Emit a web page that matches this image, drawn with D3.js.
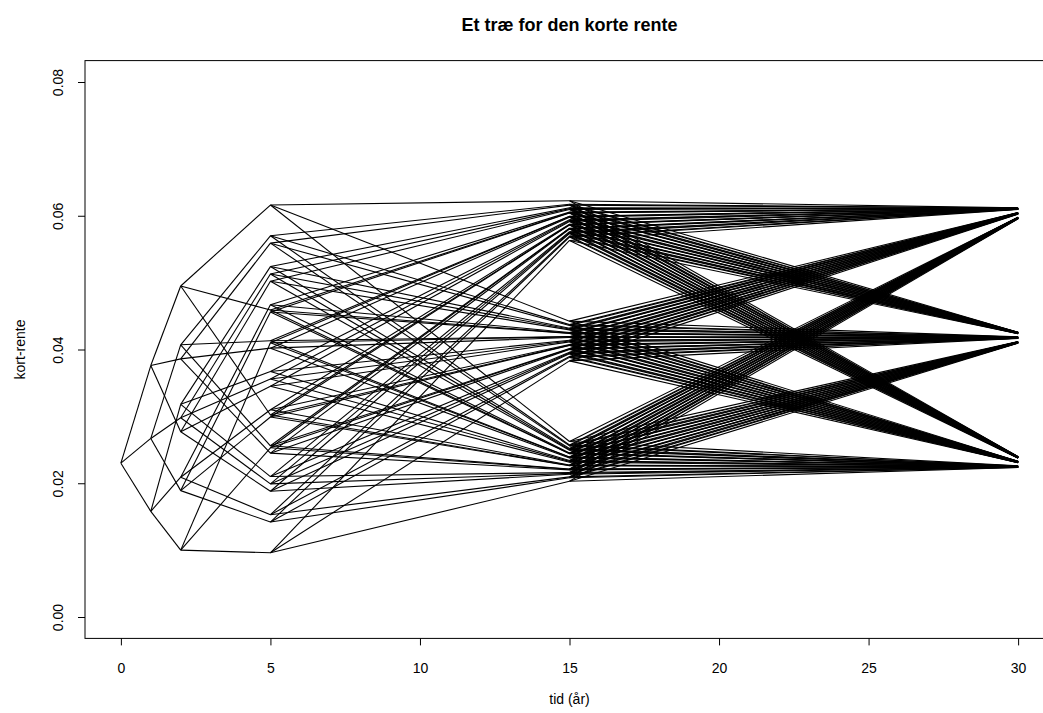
<!DOCTYPE html>
<html>
  <head>
    <meta charset="utf-8" />
    <title>Et træ for den korte rente</title>
    <script src="https://d3js.org/d3.v7.min.js"></script>
    <style>
      body { margin: 0; background: #fff; }
      text { font-family: "Liberation Sans", Arial, Helvetica, sans-serif; }
    </style>
  </head>

  <body>
    <svg id="plot" width="1043" height="713"></svg>

    <script>
      // tidspunkter i traeet (aar)
      var times = [0, 1, 2, 5, 15, 30];

      // korte rente i hver knude, et array pr. tidspunkt
      // (knude i har boernene 3i, 3i+1, 3i+2 paa naeste tidspunkt)
      var rate0 = [0.0230];
      var rate1 = [0.0376, 0.0267, 0.0158];
      var rate2 = [0.0495, 0.0386, 0.0277, 0.0407, 0.0298, 0.0189, 0.0318, 0.0209, 0.0100];
      var rate5 = [
        0.0616, 0.0459, 0.0302, 0.0559, 0.0402, 0.0245, 0.0502, 0.0345, 0.0188,
        0.0570, 0.0413, 0.0256, 0.0513, 0.0356, 0.0199, 0.0456, 0.0299, 0.0142,
        0.0524, 0.0367, 0.0210, 0.0467, 0.0310, 0.0153, 0.0410, 0.0253, 0.0096
      ];
      var rate15 = [
        0.06224, 0.04424, 0.02624, 0.06045, 0.04245, 0.02445, 0.05865, 0.04065, 0.02265,
        0.06159, 0.04359, 0.02559, 0.05979, 0.04179, 0.02379, 0.05800, 0.04000, 0.02200,
        0.06094, 0.04294, 0.02494, 0.05914, 0.04114, 0.02314, 0.05735, 0.03935, 0.02135,
        0.06172, 0.04372, 0.02572, 0.05992, 0.04192, 0.02392, 0.05813, 0.04013, 0.02213,
        0.06106, 0.04306, 0.02506, 0.05927, 0.04127, 0.02327, 0.05747, 0.03947, 0.02147,
        0.06041, 0.04241, 0.02441, 0.05862, 0.04062, 0.02262, 0.05682, 0.03882, 0.02082,
        0.06119, 0.04319, 0.02519, 0.05939, 0.04139, 0.02339, 0.05760, 0.03960, 0.02160,
        0.06054, 0.04254, 0.02454, 0.05874, 0.04074, 0.02274, 0.05695, 0.03895, 0.02095,
        0.05989, 0.04189, 0.02389, 0.05809, 0.04009, 0.02209, 0.05630, 0.03830, 0.02030
      ];
      var rate30 = [
        0.06118, 0.04258, 0.02398, 0.06049, 0.04189, 0.02329, 0.05979, 0.04119, 0.02259,
        0.06111, 0.04251, 0.02391, 0.06042, 0.04182, 0.02322, 0.05972, 0.04112, 0.02252,
        0.06104, 0.04244, 0.02384, 0.06035, 0.04175, 0.02315, 0.05965, 0.04105, 0.02245,
        0.06116, 0.04256, 0.02396, 0.06046, 0.04186, 0.02326, 0.05977, 0.04117, 0.02257,
        0.06109, 0.04249, 0.02389, 0.06039, 0.04179, 0.02319, 0.05970, 0.04110, 0.02250,
        0.06102, 0.04242, 0.02382, 0.06032, 0.04172, 0.02312, 0.05963, 0.04103, 0.02243,
        0.06113, 0.04253, 0.02393, 0.06044, 0.04184, 0.02324, 0.05974, 0.04114, 0.02254,
        0.06106, 0.04246, 0.02386, 0.06037, 0.04177, 0.02317, 0.05967, 0.04107, 0.02247,
        0.06099, 0.04239, 0.02379, 0.06030, 0.04170, 0.02310, 0.05960, 0.04100, 0.02240,
        0.06116, 0.04256, 0.02396, 0.06047, 0.04187, 0.02327, 0.05977, 0.04117, 0.02257,
        0.06109, 0.04249, 0.02389, 0.06040, 0.04180, 0.02320, 0.05970, 0.04110, 0.02250,
        0.06102, 0.04242, 0.02382, 0.06033, 0.04173, 0.02313, 0.05963, 0.04103, 0.02243,
        0.06114, 0.04254, 0.02394, 0.06044, 0.04184, 0.02324, 0.05975, 0.04115, 0.02255,
        0.06107, 0.04247, 0.02387, 0.06037, 0.04177, 0.02317, 0.05968, 0.04108, 0.02248,
        0.06100, 0.04240, 0.02380, 0.06030, 0.04170, 0.02310, 0.05961, 0.04101, 0.02241,
        0.06111, 0.04251, 0.02391, 0.06042, 0.04182, 0.02322, 0.05972, 0.04112, 0.02252,
        0.06104, 0.04244, 0.02384, 0.06035, 0.04175, 0.02315, 0.05965, 0.04105, 0.02245,
        0.06097, 0.04237, 0.02377, 0.06028, 0.04168, 0.02308, 0.05958, 0.04098, 0.02238,
        0.06114, 0.04254, 0.02394, 0.06045, 0.04185, 0.02325, 0.05975, 0.04115, 0.02255,
        0.06107, 0.04247, 0.02387, 0.06038, 0.04178, 0.02318, 0.05968, 0.04108, 0.02248,
        0.06100, 0.04240, 0.02380, 0.06031, 0.04171, 0.02311, 0.05961, 0.04101, 0.02241,
        0.06112, 0.04252, 0.02392, 0.06042, 0.04182, 0.02322, 0.05973, 0.04113, 0.02253,
        0.06105, 0.04245, 0.02385, 0.06035, 0.04175, 0.02315, 0.05966, 0.04106, 0.02246,
        0.06098, 0.04238, 0.02378, 0.06028, 0.04168, 0.02308, 0.05959, 0.04099, 0.02239,
        0.06109, 0.04249, 0.02389, 0.06040, 0.04180, 0.02320, 0.05970, 0.04110, 0.02250,
        0.06102, 0.04242, 0.02382, 0.06033, 0.04173, 0.02313, 0.05963, 0.04103, 0.02243,
        0.06095, 0.04235, 0.02375, 0.06026, 0.04166, 0.02306, 0.05956, 0.04096, 0.02236
      ];
      var levels = [rate0, rate1, rate2, rate5, rate15, rate30];

      var xTicks = [0, 5, 10, 15, 20, 25, 30];
      var yTicks = [0.00, 0.02, 0.04, 0.06, 0.08];

      var svg = d3.select("#plot");

      // R-agtig plotregion: xlim 0..30, ylim 0..0.08 med 4% luft
      var x = d3.scaleLinear().domain([-1.2, 31.2]).range([85, 1054]);
      var y = d3.scaleLinear().domain([-0.0032, 0.0832]).range([638.4, 60.6]);

      // kanter i traeet
      var edges = [];
      for (let l = 0; l < levels.length - 1; l++) {
        for (let i = 0; i < levels[l].length; i++) {
          for (let j = 0; j < 3; j++) {
            edges.push([
              [times[l], levels[l][i]],
              [times[l + 1], levels[l + 1][3 * i + j]]
            ]);
          }
        }
      }

      var line = d3.line()
        .x((d) => x(d[0]))
        .y((d) => y(d[1]));

      svg.append("g")
        .selectAll("path")
        .data(edges)
        .join("path")
        .attr("d", line)
        .attr("fill", "none")
        .attr("stroke", "#000")
        .attr("stroke-width", 1.1);

      // boks
      svg.append("rect")
        .attr("x", x.range()[0])
        .attr("y", y.range()[1])
        .attr("width", x.range()[1] - x.range()[0])
        .attr("height", y.range()[0] - y.range()[1])
        .attr("fill", "none")
        .attr("stroke", "#000")
        .attr("stroke-width", 1);

      // x-akse
      var gx = svg.append("g")
        .attr("transform", "translate(0," + y.range()[0] + ")")
        .call(d3.axisBottom(x).tickValues(xTicks).tickSize(7).tickPadding(18)
          .tickFormat(d3.format("d")));
      gx.select(".domain").remove();
      gx.selectAll(".tick line").attr("stroke", "#000");
      gx.selectAll(".tick text").attr("font-size", 14).attr("fill", "#000")
        .style("font-family", "'Liberation Sans', Arial, sans-serif");

      // y-akse, med drejede tal som i R
      var gy = svg.append("g")
        .attr("transform", "translate(" + x.range()[0] + ",0)")
        .call(d3.axisLeft(y).tickValues(yTicks).tickSize(7)
          .tickFormat(d3.format(".2f")));
      gy.select(".domain").remove();
      gy.selectAll(".tick line").attr("stroke", "#000");
      gy.selectAll(".tick text")
        .attr("x", 0)
        .attr("y", -27)
        .attr("dy", "0.35em")
        .attr("transform", "rotate(-90)")
        .attr("text-anchor", "middle")
        .attr("font-size", 14)
        .attr("fill", "#000")
        .style("font-family", "'Liberation Sans', Arial, sans-serif");

      var cx = (x.range()[0] + x.range()[1]) / 2;
      var cy = (y.range()[0] + y.range()[1]) / 2;

      svg.append("text")
        .attr("x", cx)
        .attr("y", 31)
        .attr("text-anchor", "middle")
        .attr("font-size", 18)
        .attr("font-weight", "bold")
        .text("Et træ for den korte rente");

      svg.append("text")
        .attr("x", cx)
        .attr("y", 704)
        .attr("text-anchor", "middle")
        .attr("font-size", 14)
        .text("tid (år)");

      svg.append("text")
        .attr("transform", "translate(20," + cy + ") rotate(-90)")
        .attr("dy", "0.35em")
        .attr("text-anchor", "middle")
        .attr("font-size", 14)
        .text("kort-rente");
    </script>
  </body>
</html>
